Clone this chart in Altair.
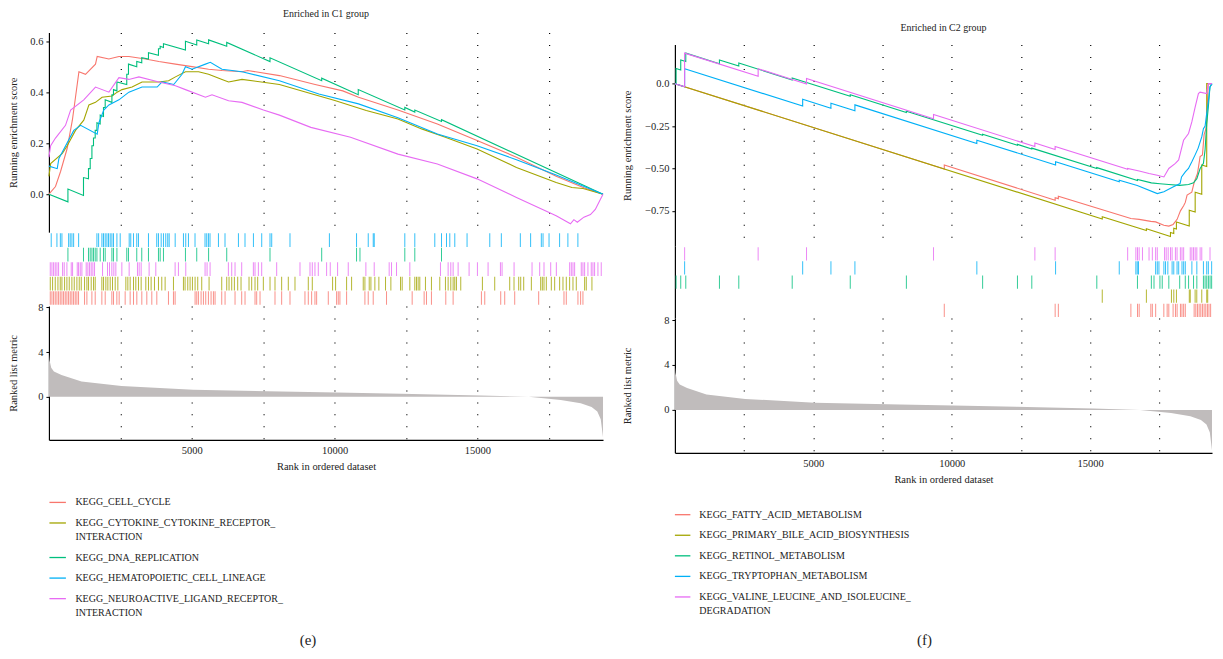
import altair as alt
import pandas as pd

FONT = "Liberation Serif"
TXT = "#222222"
PALETTE = ["#F8766D", "#A3A500", "#00BF7D", "#00B0F6", "#E76BF3"]
N_GENES = 19400
GRID_RANKS = [2500, 5000, 7500, 10000, 12500, 15000, 17500]

# ---------------- gene sets ----------------
C1_SETS = ["KEGG_CELL_CYCLE", "KEGG_CYTOKINE_CYTOKINE_RECEPTOR_INTERACTION", "KEGG_DNA_REPLICATION",
           "KEGG_HEMATOPOIETIC_CELL_LINEAGE", "KEGG_NEUROACTIVE_LIGAND_RECEPTOR_INTERACTION"]
C1_LABELS = [["KEGG_CELL_CYCLE"], ["KEGG_CYTOKINE_CYTOKINE_RECEPTOR_", "INTERACTION"], ["KEGG_DNA_REPLICATION"],
             ["KEGG_HEMATOPOIETIC_CELL_LINEAGE"], ["KEGG_NEUROACTIVE_LIGAND_RECEPTOR_", "INTERACTION"]]
C1_ROWS = ["KEGG_HEMATOPOIETIC_CELL_LINEAGE", "KEGG_DNA_REPLICATION", "KEGG_NEUROACTIVE_LIGAND_RECEPTOR_INTERACTION",
           "KEGG_CYTOKINE_CYTOKINE_RECEPTOR_INTERACTION", "KEGG_CELL_CYCLE"]

C2_SETS = ["KEGG_FATTY_ACID_METABOLISM", "KEGG_PRIMARY_BILE_ACID_BIOSYNTHESIS", "KEGG_RETINOL_METABOLISM",
           "KEGG_TRYPTOPHAN_METABOLISM", "KEGG_VALINE_LEUCINE_AND_ISOLEUCINE_DEGRADATION"]
C2_LABELS = [["KEGG_FATTY_ACID_METABOLISM"], ["KEGG_PRIMARY_BILE_ACID_BIOSYNTHESIS"], ["KEGG_RETINOL_METABOLISM"],
             ["KEGG_TRYPTOPHAN_METABOLISM"], ["KEGG_VALINE_LEUCINE_AND_ISOLEUCINE_", "DEGRADATION"]]
C2_ROWS = ["KEGG_VALINE_LEUCINE_AND_ISOLEUCINE_DEGRADATION", "KEGG_TRYPTOPHAN_METABOLISM", "KEGG_RETINOL_METABOLISM",
           "KEGG_PRIMARY_BILE_ACID_BIOSYNTHESIS", "KEGG_FATTY_ACID_METABOLISM"]

# ---------------- running enrichment scores, C1 ----------------
cc_rank = [0, 230, 410, 640, 820, 930, 1050, 1280, 1630, 1690, 2100, 2450, 2800, 3380, 3850, 4430, 5010, 5590,
           6060, 6760, 6960, 8070, 9320, 10290, 10840, 12220, 13600, 14990, 16370, 17760, 18730, 19400]
cc_es = [0.0, 0.03, 0.09, 0.18, 0.29, 0.38, 0.48, 0.47, 0.51, 0.54, 0.53, 0.54, 0.54, 0.53, 0.52, 0.51, 0.50, 0.49,
         0.485, 0.48, 0.485, 0.465, 0.43, 0.405, 0.38, 0.33, 0.275, 0.21, 0.145, 0.07, 0.025, 0.0]

ck_rank = [0, 60, 470, 640, 930, 1220, 1400, 1630, 1860, 2210, 2390, 2560, 2910, 3260, 3850, 4190, 4430, 4780,
           5240, 5590, 6060, 6290, 6760, 8070, 10010, 11110, 12220, 13050, 13880, 14990, 16370, 17760, 18310,
           18700, 19400]
ck_es = [0.07, 0.12, 0.16, 0.19, 0.25, 0.29, 0.35, 0.36, 0.38, 0.385, 0.40, 0.41, 0.42, 0.44, 0.44, 0.445, 0.46,
         0.48, 0.48, 0.47, 0.45, 0.44, 0.45, 0.43, 0.367, 0.328, 0.295, 0.256, 0.223, 0.177, 0.105, 0.046, 0.026,
         0.022, 0.0]

dna_rank = [0, 665, 665, 1210, 1210, 1385, 1385, 1445, 1445, 1505, 1505, 1560, 1560, 1620, 1620, 1680, 1680,
            1795, 1795, 1910, 1910, 1970, 1970, 2205, 2205, 2260, 2260, 2380, 2380, 2725, 2725, 2785, 2785, 3075,
            3075, 3250, 3250, 3485, 3485, 3835, 3835, 3895, 3895, 4010, 4010, 4780, 4780, 5175, 5175, 5590, 5590,
            6225, 6225, 7740, 7740, 9550, 9550, 10830, 10830, 12460, 12460, 12810, 12810, 13745, 13745, 19400]
dna_es = [0.0, -0.03, 0.02, -0.005, 0.065, 0.06, 0.10, 0.10, 0.14, 0.14, 0.19, 0.19, 0.22, 0.22, 0.25, 0.25,
          0.28, 0.275, 0.31, 0.305, 0.34, 0.34, 0.37, 0.36, 0.39, 0.39, 0.41, 0.405, 0.44, 0.43, 0.47, 0.47, 0.51,
          0.50, 0.52, 0.515, 0.535, 0.53, 0.555, 0.545, 0.57, 0.57, 0.58, 0.575, 0.59, 0.565, 0.60, 0.585, 0.605,
          0.59, 0.605, 0.58, 0.595, 0.52, 0.535, 0.445, 0.455, 0.39, 0.41, 0.33, 0.34, 0.322, 0.33, 0.285, 0.292,
          0.0]

hc_rank = [0, 290, 350, 870, 1110, 1690, 1750, 1920, 2100, 2450, 2800, 3260, 3790, 3960, 4370, 4660, 4780, 5010,
           5480, 5650, 6060, 6760, 8070, 9450, 10840, 12220, 13600, 14990, 16370, 17760, 19400]
hc_es = [0.11, 0.10, 0.14, 0.25, 0.27, 0.235, 0.28, 0.33, 0.35, 0.37, 0.40, 0.42, 0.42, 0.44, 0.43, 0.47, 0.50,
         0.49, 0.51, 0.517, 0.49, 0.48, 0.445, 0.393, 0.354, 0.30, 0.236, 0.19, 0.135, 0.075, 0.0]

nl_rank = [0, 60, 230, 580, 760, 1220, 1630, 2100, 2450, 2800, 3150, 3850, 4430, 4780, 5480, 5710, 6290, 6760,
           7510, 8070, 9170, 10560, 12220, 13600, 14990, 16370, 17760, 18260, 18380, 18500, 18730, 18960, 19130,
           19310, 19400]
nl_es = [0.145, 0.19, 0.22, 0.27, 0.33, 0.37, 0.42, 0.40, 0.457, 0.45, 0.46, 0.44, 0.425, 0.41, 0.38, 0.39,
         0.366, 0.36, 0.33, 0.31, 0.262, 0.223, 0.157, 0.118, 0.06, -0.013, -0.085, -0.116, -0.10, -0.11, -0.09,
         -0.08, -0.06, -0.02, 0.0]

# ---------------- running enrichment scores, C2 ----------------
fa_rank = [0, 9730, 9730, 13735, 13735, 13850, 13850, 16470, 16770, 17190, 17365, 17660, 17840, 17995, 18140,
           18260, 18375, 18435, 18500, 18670, 18760, 18875, 18970, 19055, 19115, 19175, 19210, 19265, 19400]
fa_es = [0.0, -0.503, -0.480, -0.687, -0.672, -0.678, -0.664, -0.795, -0.80, -0.812, -0.815, -0.835, -0.84,
         -0.83, -0.80, -0.75, -0.72, -0.70, -0.657, -0.64, -0.58, -0.53, -0.43, -0.42, -0.30, -0.27, -0.215, 0.0,
         0.0]

pb_rank = [0, 15436, 15436, 17030, 17030, 17900, 17900, 18019, 18019, 18114, 18114, 18578, 18578, 18792, 18792,
           19030, 19030, 19209, 19209, 19400]
pb_es = [0.0, -0.798, -0.784, -0.866, -0.856, -0.901, -0.878, -0.884, -0.852, -0.857, -0.816, -0.840, -0.746,
         -0.757, -0.640, -0.652, -0.480, -0.489, 0.0, 0.0]

rt_rank = [0, 43, 43, 211, 211, 393, 393, 1609, 1609, 2308, 2308, 4237, 4237, 6334, 6334, 8361, 8361, 11115,
           11115, 12373, 12373, 12891, 12891, 15239, 15239, 16707, 16707, 17209, 17519, 17840, 18233, 18554, 18733,
           18852, 18971, 19090, 19150, 19207, 19266, 19326, 19400]
rt_es = [0.0, -0.002, 0.09, 0.081, 0.14, 0.13, 0.18, 0.117, 0.14, 0.104, 0.122, 0.022, 0.034, -0.074, -0.065,
         -0.17, -0.162, -0.304, -0.298, -0.363, -0.358, -0.385, -0.38, -0.501, -0.495, -0.571, -0.565, -0.585,
         -0.59, -0.595, -0.60, -0.595, -0.585, -0.56, -0.50, -0.47, -0.39, -0.24, -0.14, -0.02, 0.0]

tp_rank = [0, 351, 351, 4615, 4615, 5636, 5636, 6502, 6502, 10906, 10906, 13750, 13750, 16050, 16050, 16700,
           17424, 17662, 18008, 18246, 18300, 18435, 18550, 18671, 18790, 18900, 19030, 19090, 19150, 19207, 19266,
           19326, 19400]
tp_es = [0.0, -0.018, 0.088, -0.132, -0.092, -0.145, -0.115, -0.16, -0.125, -0.353, -0.333, -0.48, -0.46,
         -0.579, -0.569, -0.60, -0.648, -0.637, -0.608, -0.589, -0.55, -0.52, -0.50, -0.461, -0.42, -0.38, -0.314,
         -0.265, -0.25, -0.177, -0.108, -0.02, 0.0]

vl_rank = [0, 351, 351, 3007, 3007, 4754, 4754, 9341, 9341, 13002, 13002, 13734, 13734, 16353, 16353, 16770,
           17126, 17424, 17662, 17840, 18078, 18195, 18373, 18552, 18671, 18791, 18909, 18969, 19207, 19266, 19400]
vl_es = [0.0, -0.018, 0.18, 0.043, 0.088, -0.002, 0.03, -0.207, -0.182, -0.371, -0.35, -0.388, -0.37, -0.505,
         -0.50, -0.515, -0.53, -0.54, -0.55, -0.50, -0.47, -0.45, -0.334, -0.294, -0.226, -0.138, -0.059, -0.05,
         -0.059, 0.0, 0.0]

# ---------------- hit positions (ranks) ----------------
cc_hits = [47, 105, 163, 221, 280, 338, 396, 455, 513, 571, 629, 688, 746, 804, 863, 921, 979, 1037, 1247, 1329,
           1504, 1620, 1853, 1970, 2203, 2261, 2378, 2459, 2669, 2844, 2961, 3077, 3252, 3427, 3602, 3777, 4185,
           4360, 4418, 5117, 5176, 5234, 5327, 5409, 5490, 5584, 5677, 5759, 5817, 6050, 6167, 6516, 6749, 6866,
           7216, 7274, 7391, 7915, 8148, 8440, 8964, 9081, 9198, 9314, 9373, 9781, 10072, 10130, 10188, 10422,
           11063, 11179, 11354, 11820, 12718, 13137, 13219, 13393, 13895, 14152, 15143, 15259, 15818, 15958, 16308,
           17147, 18033, 18114, 18522, 18615, 18697]
ck_hits = [47, 128, 221, 315, 396, 455, 548, 629, 711, 804, 886, 979, 1061, 1131, 1247, 1329, 1387, 1480, 1562,
           1620, 1853, 1912, 1993, 2063, 2145, 2226, 2320, 2413, 2693, 2763, 2844, 2961, 3042, 3135, 3229, 3392,
           3485, 3578, 3695, 3835, 3951, 4068, 4360, 4709, 4767, 4861, 4942, 5024, 5117, 5210, 5350, 5607, 6050,
           6225, 6306, 6400, 6493, 6609, 6726, 7006, 7099, 7216, 7309, 7507, 7741, 7915, 8148, 8381, 8615, 9081,
           9221, 9932, 10037, 10422, 10597, 11005, 11063, 11214, 11273, 11412, 11552, 11785, 11972, 12310, 12368,
           12636, 12810, 12869, 12927, 12985, 13183, 13393, 13685, 13883, 13977, 14070, 14152, 14209, 14268, 14419,
           15177, 15608, 16133, 16284, 16448, 16518, 16623, 16891, 17217, 17275, 17334, 17415, 17590, 17707, 17881,
           17998, 18114, 18231, 18348, 18464, 18756, 18814, 19012]
dna_hits = [665, 1210, 1385, 1445, 1505, 1560, 1620, 1680, 1795, 1910, 1970, 2205, 2260, 2380, 2725, 2785, 3075,
            3250, 3485, 3835, 3895, 4010, 4780, 5175, 5590, 6225, 7740, 9550, 10770, 10890, 12460, 12810, 13745]
hc_hits = [80, 280, 400, 455, 690, 745, 805, 865, 1040, 1680, 1740, 1855, 1910, 1970, 2030, 2085, 2145, 2205,
           2260, 2380, 2495, 2810, 2865, 2960, 3075, 3135, 3485, 3775, 3835, 3930, 4010, 4090, 4160, 4210, 4420,
           4710, 4790, 4885, 5115, 5465, 5525, 5585, 5640, 5935, 6165, 6635, 6865, 7160, 7450, 7740, 7800, 8440,
           9820, 10770, 11180, 11355, 11390, 12460, 12810, 13510, 13745, 13920, 14035, 14210, 14640, 15435, 15840,
           16505, 16865, 17240, 17300, 17510, 17880, 18170, 18520]
nl_hits = [47, 105, 163, 221, 280, 338, 478, 536, 629, 781, 828, 991, 1037, 1096, 1154, 1305, 1364, 1422, 1480,
           1539, 1597, 1877, 2051, 2121, 2203, 2273, 2343, 2553, 2809, 3100, 3159, 3229, 3508, 3742, 4418, 4534,
           4791, 5467, 5537, 5642, 6283, 6400, 6516, 6749, 7158, 7216, 7333, 7449, 7974, 8790, 9140, 9221, 9314,
           9431, 9722, 9850, 10107, 10480, 11097, 11389, 11913, 11995, 12170, 12636, 13709, 13977, 14070, 14152,
           14327, 14711, 15003, 15376, 15808, 15866, 16286, 16915, 17183, 17334, 17568, 17766, 18232, 18290, 18348,
           18406, 18639, 18697, 18756, 18872, 18989, 19047, 19105, 19222, 19338]

fa_hits = [9730, 13735, 13850, 16470, 16710, 16770, 17190, 17245, 17365, 17660, 17780, 17840, 17995, 18080,
           18140, 18260, 18315, 18375, 18435, 18755, 18815, 18875, 18935, 18995, 19055, 19115, 19175, 19235, 19290,
           19350]
pb_hits = [15436, 17030, 17935, 18020, 18115, 18580, 18615, 18790, 18850, 19030, 19210, 19245]
rt_hits = [43, 211, 393, 1609, 2308, 4237, 6334, 8361, 11115, 12373, 12891, 15239, 16707, 17209, 17305, 17519,
           17602, 17840, 18233, 18435, 18554, 18733, 18852, 19090, 19150, 19210, 19270, 19330, 19387]
tp_hits = [351, 4615, 5636, 6502, 10906, 13750, 16050, 16650, 16700, 16745, 17364, 17424, 17483, 17662, 17721,
           17805, 17959, 18019, 18138, 18197, 18316, 18376, 18435, 18673, 18852, 19090, 19209, 19268, 19387]
vl_hits = [351, 3007, 4754, 9341, 13002, 13734, 16353, 16650, 16709, 16769, 16888, 17126, 17245, 17364, 17424,
           17686, 17745, 17817, 17900, 17959, 18078, 18138, 18257, 18316, 18376, 18614, 18673, 18733, 18792, 18852,
           18971, 19030, 19328]

# ---------------- ranked list metric ----------------
metric_rank = [0, 20, 80, 175, 440, 1140, 2540, 5050, 8130, 10060, 12330, 15120, 16800, 17920, 18620, 19000,
               19200, 19320, 19400]
metric_val = [3.9, 3.3, 2.6, 2.26, 1.96, 1.37, 0.98, 0.63, 0.47, 0.39, 0.27, 0.12, 0.0, -0.27, -0.57, -0.9,
              -1.3, -2.0, -3.6]


# ---------------- tables ----------------
def curve_frame(sets, ranks, scores):
    rows = []
    for s, rr, ee in zip(sets, ranks, scores):
        assert len(rr) == len(ee), s
        for i, (r, e) in enumerate(zip(rr, ee)):
            rows.append({"set": s, "rank": r, "es": e, "idx": i})
    return pd.DataFrame(rows)


def hit_frame(sets, hits):
    return pd.DataFrame([{"set": s, "rank": r} for s, hh in zip(sets, hits) for r in hh])


c1_curves = curve_frame(C1_SETS, [cc_rank, ck_rank, dna_rank, hc_rank, nl_rank], [cc_es, ck_es, dna_es, hc_es, nl_es])
c2_curves = curve_frame(C2_SETS, [fa_rank, pb_rank, rt_rank, tp_rank, vl_rank], [fa_es, pb_es, rt_es, tp_es, vl_es])
c1_hits = hit_frame(C1_SETS, [cc_hits, ck_hits, dna_hits, hc_hits, nl_hits])
c2_hits = hit_frame(C2_SETS, [fa_hits, pb_hits, rt_hits, tp_hits, vl_hits])
metric_df = pd.DataFrame({"rank": metric_rank, "metric": metric_val})

COLOR = alt.Color("set:N", scale=alt.Scale(domain=C1_SETS + C2_SETS, range=PALETTE + PALETTE), legend=None)
XSCALE = alt.Scale(domain=[0, N_GENES], nice=False, zero=False)
GRID_AXIS = dict(values=GRID_RANKS, grid=True, gridDash=[1, 11], gridColor="black", gridWidth=1.2)


def es_panel(df, title, width, height, ydom, yvals, label_expr, title_x, title_offset):
    x = alt.X("rank:Q", scale=XSCALE,
              axis=alt.Axis(labels=False, ticks=False, domain=False, title=None, **GRID_AXIS))
    y = alt.Y("es:Q", scale=alt.Scale(domain=ydom, nice=False, zero=False),
              axis=alt.Axis(values=yvals, labelExpr=label_expr, title="Running enrichment score",
                            titleX=title_x, titleY=height / 2, grid=False))
    return alt.Chart(df).mark_line(strokeWidth=1.1).encode(
        x=x, y=y, color=COLOR, order="idx:Q"
    ).properties(width=width, height=height,
                 title=alt.TitleParams(title, offset=title_offset, frame="group", fontSize=10, font=FONT,
                                       fontWeight="normal", color=TXT))


def hit_panel(df, rows, width, height, show_domain):
    if show_domain:
        yaxis = alt.Axis(labels=False, ticks=False, title=None, domain=True, grid=False)
    else:
        yaxis = None
    y = alt.Y("set:N", scale=alt.Scale(type="band", domain=rows, paddingInner=0.02, paddingOuter=0.06), axis=yaxis)
    band = height / len(rows)
    return alt.Chart(df).mark_tick(thickness=1, size=band * 0.92, opacity=0.8).encode(
        x=alt.X("rank:Q", scale=XSCALE, axis=None), y=y, color=COLOR
    ).properties(width=width, height=height)


def metric_panel(width, height, ydom, title_x):
    x = alt.X("rank:Q", scale=XSCALE,
              axis=alt.Axis(labelExpr="datum.value % 5000 == 0 ? format(datum.value, 'd') : ''",
                            title="Rank in ordered dataset", ticks=False, labelPadding=6, titlePadding=5,
                            **GRID_AXIS))
    y = alt.Y("metric:Q", scale=alt.Scale(domain=ydom, nice=False, zero=False),
              axis=alt.Axis(values=[0, 4, 8], title="Ranked list metric", titleX=title_x, titleY=height / 2,
                            grid=False))
    return alt.Chart(metric_df).mark_area(color="#c0bcbc").encode(
        x=x, y=y, y2=alt.datum(0)
    ).properties(width=width, height=height)


def legend_panel(sets, labels, width, height, swatch, text_x, first_y, caption, caption_x, caption_y):
    line_gap, entry_gap = 14.0, 20.6
    sw_rows, txt_rows = [], []
    ypos = first_y
    for s, lines in zip(sets, labels):
        sw_rows.append({"set": s, "ypos": ypos})
        for k, line in enumerate(lines):
            txt_rows.append({"text": line, "ypos": ypos + k * line_gap})
        ypos += entry_gap + line_gap * (len(lines) - 1)
    Y = alt.Y("ypos:Q", scale=alt.Scale(domain=[0, height], range=[0, height]), axis=None)
    sw = alt.Chart(pd.DataFrame(sw_rows)).mark_rule(strokeWidth=1.3).encode(
        x=alt.value(swatch[0]), x2=alt.value(swatch[1]), y=Y, color=COLOR)
    tx = alt.Chart(pd.DataFrame(txt_rows)).mark_text(align="left", baseline="middle", fontSize=10, font=FONT,
                                                      color=TXT).encode(x=alt.value(text_x), y=Y, text="text:N")
    cap = alt.Chart(pd.DataFrame({"text": [caption], "ypos": [caption_y]})).mark_text(
        align="center", baseline="middle", fontSize=15, font=FONT, color=TXT).encode(
        x=alt.value(caption_x), y=Y, text="text:N")
    return alt.layer(sw, tx, cap).properties(width=width, height=height)


W_L, W_R = 555, 538

left = alt.vconcat(
    es_panel(c1_curves, "Enriched in C1 group", W_L, 200, [-0.149, 0.634], [0.0, 0.2, 0.4, 0.6],
             "format(datum.value, '.1f')", -30, 14),
    hit_panel(c1_hits, C1_ROWS, W_L, 74, False),
    metric_panel(W_L, 134, [-3.84, 8.12], -30),
    legend_panel(C1_SETS, C1_LABELS, W_L, 210, (0.5, 17), 26.5, 62.7, "(e)", 259.5, 201),
    spacing=0, bounds="flush",
)

spacer = alt.Chart(pd.DataFrame({"v": [0]})).mark_point(opacity=0).encode(
    x=alt.X("v:Q", axis=None), y=alt.Y("v:Q", axis=None)).properties(width=W_R, height=12)

right = alt.vconcat(
    spacer,
    es_panel(c2_curves, "Enriched in C2 group", W_R, 202, [-0.958, 0.231], [0.0, -0.25, -0.5, -0.75],
             "datum.value == 0 ? '0.0' : format(datum.value, '.2f')", -42.5, 11),
    hit_panel(c2_hits, C2_ROWS, W_R, 72, True),
    metric_panel(W_R, 135, [-3.82, 8.18], -42.5),
    legend_panel(C2_SETS, C2_LABELS, W_R, 197, (0, 15.5), 24.5, 62, "(f)", 250, 188),
    spacing=0, bounds="flush",
)

chart = alt.hconcat(left, right, spacing=16, bounds="full").properties(padding=0).configure_view(
    strokeOpacity=0
).configure_axis(
    labelFont=FONT, titleFont=FONT, labelFontSize=10.5, titleFontSize=10.5, labelColor=TXT, titleColor=TXT,
    titleFontWeight="normal", domainColor="black", domainWidth=1.2, tickColor="black", tickSize=3,
    labelPadding=3,
)

chart.save("out.html", embed_options={"renderer": "svg", "actions": False})
